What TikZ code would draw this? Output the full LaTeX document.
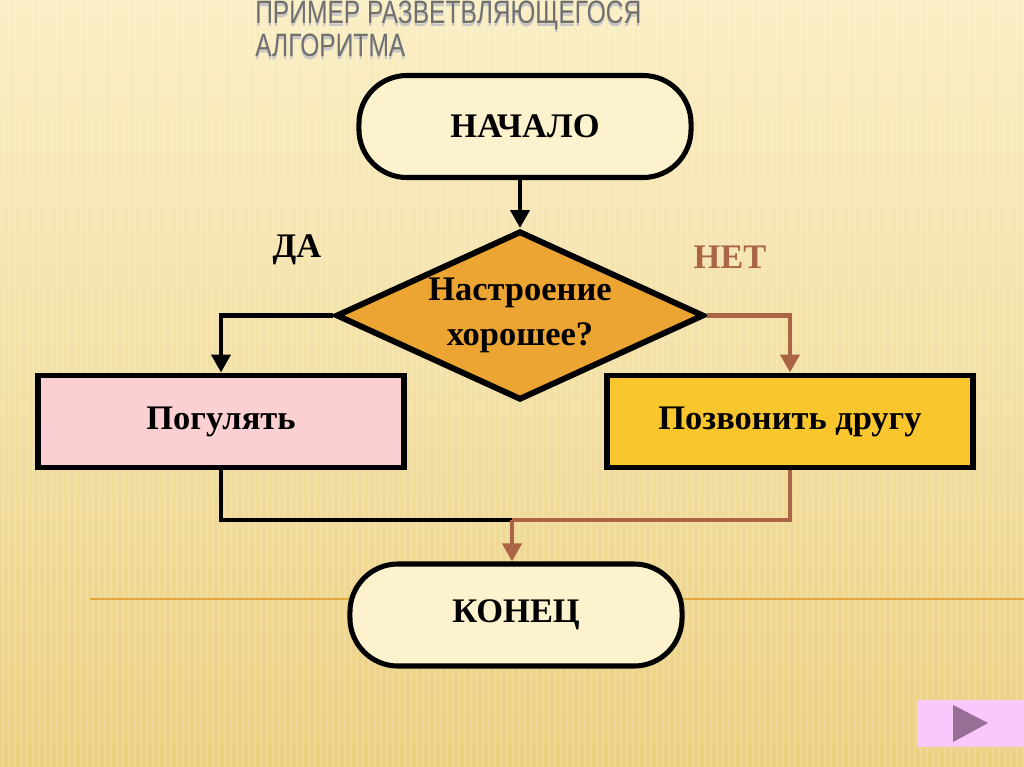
\documentclass[tikz,border=0pt]{standalone}
\usepackage{fontspec}
\setmainfont{Liberation Serif}
\newfontfamily\titlefont[FakeStretch=0.76]{Liberation Sans}
\usepackage{tikz}
\usetikzlibrary{arrows.meta,positioning,shapes.geometric}
\definecolor{bgtop}{RGB}{250,238,196}
\definecolor{bgmid}{RGB}{243,224,165}
\definecolor{bgbot}{RGB}{236,208,130}
\definecolor{rulecol}{RGB}{228,168,62}
\definecolor{titlegray}{RGB}{112,112,112}
\definecolor{termfill}{RGB}{252,242,206}
\definecolor{moodfill}{RGB}{236,165,50}
\definecolor{walkfill}{RGB}{250,208,210}
\definecolor{callfill}{RGB}{250,198,45}
\definecolor{mybrown}{RGB}{170,100,70}
\definecolor{btnpink}{RGB}{250,200,250}
\definecolor{btnpurple}{RGB}{150,110,150}

\begin{document}
\begin{tikzpicture}[x=0.025cm, y=-0.025cm,
    every node/.style={font=\fontsize{24.5}{29}\selectfont\bfseries},
    termbox/.style={draw=black, line width=3.6pt, fill=termfill,
                    rounded corners=1.2cm, minimum width=8.3cm,
                    minimum height=2.55cm},
    actbox/.style={draw=black, line width=4.2pt, minimum width=9.15cm,
                   minimum height=2.3cm},
    flow/.style={line width=3.5pt, -{Triangle[width=0.47cm,length=0.45cm]}}
  ]
    \useasboundingbox (0,0) rectangle (1024,767);
    \clip (0,0) rectangle (1024,767);
    % background
    \shade[top color=bgtop, bottom color=bgbot, middle color=bgmid]
      (0,0) rectangle (1024,767);
    \foreach \sx in {3,9,...,1023}{
      \draw[white, opacity=0.14, line width=1.4pt] (\sx,0) -- (\sx,767);
    }
    \draw[rulecol, line width=1.2pt] (90,599) -- (1024,599);

    % title
    \foreach \ty/\tt in {24/ПРИМЕР РАЗВЕТВЛЯЮЩЕГОСЯ, 57/АЛГОРИТМА}{
      \node[font=\titlefont\fontsize{23}{28}\selectfont, text=titlegray!40,
            anchor=base west, inner sep=0] at (255,\ty+2.5) {\tt};
      \node[font=\titlefont\fontsize{23}{28}\selectfont, text=titlegray,
            anchor=base west, inner sep=0] at (255,\ty) {\tt};
    }

    % blocks
    \node[termbox] (start) at (525,126.5) {НАЧАЛО};
    \node[draw=black, shape=diamond, line width=4.2pt, fill=moodfill,
          aspect=2.15, inner sep=0, align=center,
          minimum width=9.2cm, minimum height=4.225cm]
      (mood) at (520,315.5) {Настроение\\[3pt]хорошее?};
    \node[actbox, fill=walkfill] (walk) at (221,421.5) {Погулять};
    \node[actbox, fill=callfill] (call) at (790,421.5) {Позвонить другу};
    \node[termbox] (finish) at (516,615) {КОНЕЦ};
    \node (yes) at (297,250) {ДА};
    \node[text=mybrown] (no) at (730,257) {НЕТ};
    \coordinate (join) at (512,520);

    % connectors
    \draw[flow] (mood.north |- start.south) -- (mood.north);
    \draw[flow] (mood.west) -| (walk.north);
    \draw[flow, mybrown] (mood.east) -| (call.north);
    \draw[line width=3.5pt] (walk.south) |- (join);
    \draw[line width=3.5pt, mybrown] (call.south) |- (join);
    \draw[flow, mybrown] (join) -- (join |- finish.north);

    % next button
    \fill[btnpink] (917,700) rectangle (1024,747);
    \fill[btnpurple] (953,705) -- (988,723) -- (953,742) -- cycle;
\end{tikzpicture}
\end{document}
